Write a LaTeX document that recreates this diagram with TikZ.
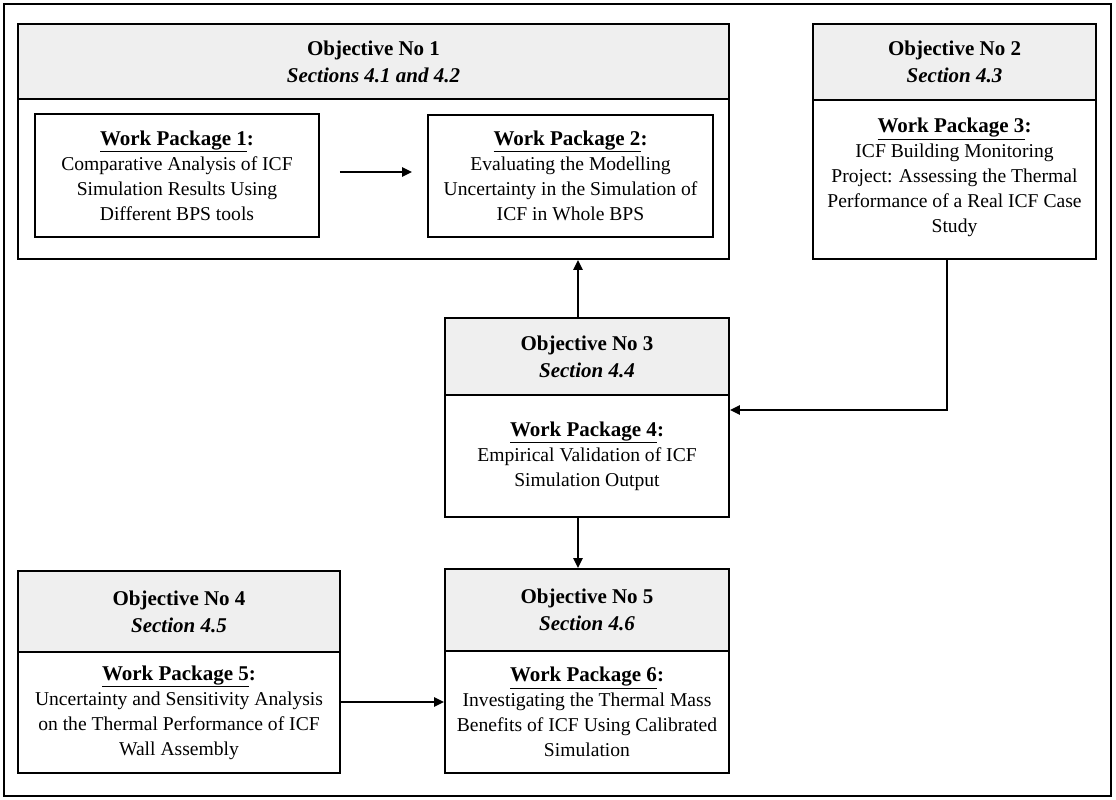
\documentclass[tikz,border=0pt]{standalone}
\usepackage{fontspec}
\setmainfont{Liberation Serif}
\usetikzlibrary{arrows.meta,calc}
\definecolor{hdrgray}{RGB}{239,239,239}
\newcommand\wpk[1]{{\fontsize{21}{25}\selectfont\bfseries\underline{#1}:}}
\begin{document}
\begin{tikzpicture}[x=1pt,y=-1pt,
  box/.style={draw=black, line width=1.8pt, inner sep=0pt, align=center,
    font=\fontsize{19.6}{25}\selectfont},
  hdr/.style={box, fill=hdrgray, font=\fontsize{21}{27}\selectfont\bfseries},
  arr/.style={line width=2.2pt, -{Triangle[length=10pt,width=9pt]}}]
\useasboundingbox (0,0) rectangle (1116,800);
\node[draw, line width=1.6pt, minimum width=1107pt, minimum height=792pt, inner sep=0pt] (frame) at (557.5,400) {};

% Objective 1
\node[box, minimum width=711pt, minimum height=160pt] (o1b) at (373.5,179) {};
\node[hdr, minimum width=711pt, minimum height=75pt] (o1h) at (373.5,61.5) {Objective No 1\\\textit{Sections 4.1 and 4.2}};
\node[box, minimum width=284pt, minimum height=123pt] (wp1) at (177,175.5)
  {\wpk{Work Package 1}\\Comparative Analysis of ICF\\Simulation Results Using\\Different BPS tools};
\node[box, minimum width=285pt, minimum height=122pt] (wp2) at (570.5,176)
  {\wpk{Work Package 2}\\Evaluating the Modelling\\Uncertainty in the Simulation of\\ICF in Whole BPS};

% Objective 2
\node[box, minimum width=283pt, minimum height=159pt] (o2b) at (954.5,179.5)
  {\mbox{}\\[-14pt]\wpk{Work Package 3}\\ICF Building Monitoring\\Project: Assessing the Thermal\\Performance of a Real ICF Case\\Study};
\node[hdr, minimum width=283pt, minimum height=76pt] (o2h) at (954.5,62) {Objective No 2\\\textit{Section 4.3}};

% Objective 3
\node[box, minimum width=284pt, minimum height=122pt] (o3b) at (587,456)
  {\wpk{Work Package 4}\\Empirical Validation of ICF\\Simulation Output};
\node[hdr, minimum width=284pt, minimum height=77pt] (o3h) at (587,356.5) {Objective No 3\\\textit{Section 4.4}};

% Objective 4
\node[box, minimum width=322pt, minimum height=121pt] (o4b) at (179,712.5)
  {\wpk{Work Package 5}\\Uncertainty and Sensitivity Analysis\\on the Thermal Performance of ICF\\Wall Assembly};
\node[hdr, minimum width=322pt, minimum height=81pt] (o4h) at (179,611.5) {Objective No 4\\\textit{Section 4.5}};

% Objective 5
\node[box, minimum width=284pt, minimum height=122pt] (o5b) at (587,712)
  {\wpk{Work Package 6}\\Investigating the Thermal Mass\\Benefits of ICF Using Calibrated\\Simulation};
\node[hdr, minimum width=284pt, minimum height=82pt] (o5h) at (587,610) {Objective No 5\\\textit{Section 4.6}};

% connectors
\coordinate (a1) at ($(wp1.east)+(20,-3.5)$);
\coordinate (a2) at ($(wp2.west)+(-15,-4)$);
\draw[arr] (a1) -- (a1 -| a2);
\coordinate (v) at (578,0);
\draw[arr] (o3h.north -| v) -- (o1b.south -| v);
\draw[arr] (o3b.south -| v) -- (o5h.north -| v);
\coordinate (k) at (947,410);
\draw[arr] (o2b.south -| k) |- (o3b.east |- k);
\coordinate (h) at (0,702);
\draw[arr] (o4b.east |- h) -- (o5b.west |- h);
\end{tikzpicture}
\end{document}
